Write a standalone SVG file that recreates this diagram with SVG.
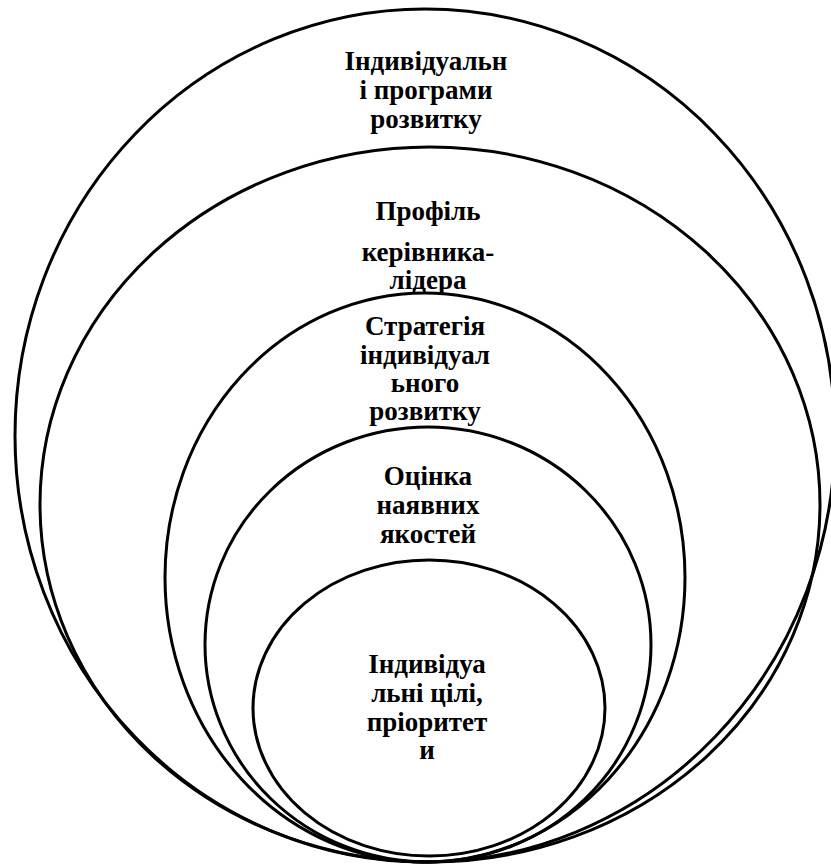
<svg xmlns="http://www.w3.org/2000/svg" width="831" height="864" viewBox="0 0 831 864">
<style>
.ring{fill:none;stroke:#000;stroke-width:3}
.t{font-family:"Liberation Serif","Times New Roman","DejaVu Serif",serif;font-weight:bold;font-size:27px;fill:#000;text-anchor:middle}
</style>
<rect width="831" height="864" fill="#fff"/>
<g id="n1">
<ellipse class="ring" cx="425" cy="435.5" rx="410" ry="426.5"/>
<text class="t" x="426" y="70">Індивідуальн</text>
<text class="t" x="426" y="99">і програми</text>
<text class="t" x="426" y="128">розвитку</text>
</g>
<g id="n2">
<ellipse class="ring" cx="430" cy="504.5" rx="390" ry="357.5"/>
<text class="t" x="428" y="220">Профіль</text>
<text class="t" x="428" y="261">керівника-</text>
<text class="t" x="428" y="289">лідера</text>
</g>
<g id="n3">
<ellipse class="ring" cx="425" cy="577.5" rx="260" ry="284.5"/>
<text class="t" x="425" y="335">Стратегія</text>
<text class="t" x="425" y="364">індивідуал</text>
<text class="t" x="425" y="392">ьного</text>
<text class="t" x="425" y="420">розвитку</text>
</g>
<g id="n4">
<ellipse class="ring" cx="428" cy="644.5" rx="223" ry="217.5"/>
<text class="t" x="428" y="485">Оцінка</text>
<text class="t" x="428" y="514">наявних</text>
<text class="t" x="428" y="543">якостей</text>
</g>
<g id="n5">
<ellipse class="ring" cx="429" cy="708" rx="176" ry="148"/>
<text class="t" x="427" y="673">Індивідуа</text>
<text class="t" x="427" y="702">льні цілі,</text>
<text class="t" x="427" y="731">пріоритет</text>
<text class="t" x="427" y="759">и</text>
</g>
<g id="connectors"/>
</svg>
